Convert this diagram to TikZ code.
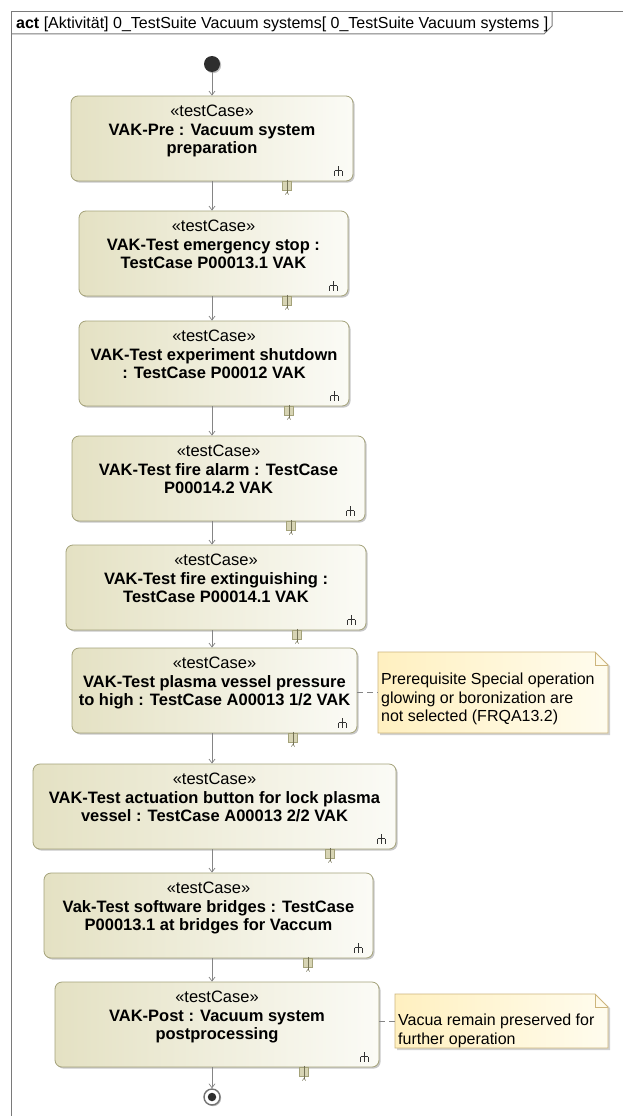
\documentclass[tikz,border=0pt]{standalone}
\usepackage{fontspec}
\setmainfont{Liberation Sans}
\usetikzlibrary{arrows.meta,shadows,calc}

\definecolor{boxline}{HTML}{A4A27A}
\definecolor{boxL}{HTML}{E4E1C3}
\definecolor{boxR}{HTML}{FBFBF6}
\definecolor{noteline}{HTML}{CDB57C}
\definecolor{noteL}{HTML}{FFF0C0}
\definecolor{noteR}{HTML}{FFFCEE}
\definecolor{flowgray}{HTML}{858585}
\definecolor{framegray}{HTML}{7A7A7A}

\tikzset{
  tc/.style={draw=boxline, line width=0.8pt, rounded corners=7pt,
    left color=boxL, right color=boxR, minimum height=85pt, inner sep=0pt,
    drop shadow={shadow xshift=1.6pt, shadow yshift=-1.6pt, fill=black, opacity=0.22}},
  tctext/.style={anchor=north, align=center, inner sep=0pt,
    font=\fontsize{16.5}{18.5}\selectfont},
  pinbox/.style={draw=boxline, fill=boxL!80!boxline, line width=0.6pt,
    minimum width=9pt, minimum height=9pt, inner sep=0pt, anchor=north},
  flow/.style={draw=flowgray, line width=0.7pt,
    -{Straight Barb[length=4pt,width=6pt,line width=0.7pt]}},
  anchorline/.style={draw=flowgray, line width=0.7pt, dash pattern=on 6pt off 4pt},
  notetext/.style={align=left, anchor=north west, inner sep=0pt,
    font=\fontsize{16}{18.5}\selectfont},
}

% rake symbol of a call behavior action: stem on top, three prongs below
\newcommand\rakeicon[1]{%
  \draw[line width=0.9pt, black!80] ($(#1)+(0,-5)$) -- ($(#1)+(0,-0.5)$)
    ($(#1)+(-3.8,-0.5)$) -- ($(#1)+(3.8,-0.5)$)
    ($(#1)+(-3.8,-0.5)$) -- ($(#1)+(-3.8,4.5)$)
    ($(#1)+(0,-0.5)$) -- ($(#1)+(0,4.5)$)
    ($(#1)+(3.8,-0.5)$) -- ($(#1)+(3.8,4.5)$);}

% note with folded corner
\newcommand\notebox[5]{% name, x1, y1, x2, y2
  \fill[black, opacity=0.18] (#2+2,#3+2) -- (#4-12,#3+2) -- (#4+2,#3+14) -- (#4+2,#5+2) -- (#2+2,#5+2) -- cycle;
  \path[draw=noteline, line width=0.8pt, left color=noteL, right color=noteR]
    (#2,#3) -- (#4-13,#3) -- (#4,#3+13) -- (#4,#5) -- (#2,#5) -- cycle;
  \draw[noteline, line width=0.8pt] (#4-13,#3) -- (#4-13,#3+13) -- (#4,#3+13);
  \coordinate (#1) at (#2,{(#3+#5)/2});}

\begin{document}
\begin{tikzpicture}[x=1pt, y=-1pt]
\useasboundingbox (0,0) rectangle (623,1116);
\clip (0,0) rectangle (623,1116);
\fill[white] (0,0) rectangle (623,1116);

% diagram frame and its name tab
\draw[framegray, line width=1pt] (11,1130) -- (11,12) -- (640,12);
\draw[framegray, line width=1pt] (11,34) -- (544,34) -- (552,26) -- (552,12);
\node[anchor=base west, inner sep=0pt, font=\fontsize{16}{18}\selectfont] (title) at (16,28.5)
  {\textbf{act} [Aktivität] 0\_TestSuite Vacuum systems[ 0\_TestSuite Vacuum systems ]};

% initial node
\node[circle, fill=black!82, minimum size=16pt, inner sep=0pt,
  drop shadow={shadow xshift=1.2pt, shadow yshift=-1.2pt, fill=black, opacity=0.25}] (init) at (212,64) {};

% test case actions
\node[tc, minimum width=282pt] (b1) at (212,138.5) {};
\node[tc, minimum width=269pt] (b2) at (213.5,253.5) {};
\node[tc, minimum width=270pt] (b3) at (214,363.5) {};
\node[tc, minimum width=293pt] (b4) at (218.5,478.5) {};
\node[tc, minimum width=300pt] (b5) at (216,587.5) {};
\node[tc, minimum width=285pt] (b6) at (214.5,690.5) {};
\node[tc, minimum width=363pt] (b7) at (214.5,806.5) {};
\node[tc, minimum width=329pt] (b8) at (208.5,915.5) {};
\node[tc, minimum width=324pt] (b9) at (217,1024.5) {};

\node[tctext] (t1) at ([yshift=-9.5pt]b1.north) {«testCase»\\\textbf{VAK-Pre : Vacuum system}\\\textbf{preparation}};
\node[tctext] (t2) at ([yshift=-9.5pt]b2.north) {«testCase»\\\textbf{VAK-Test emergency stop :}\\\textbf{TestCase P00013.1 VAK}};
\node[tctext] (t3) at ([yshift=-9.5pt]b3.north) {«testCase»\\\textbf{VAK-Test experiment shutdown}\\\textbf{: TestCase P00012 VAK}};
\node[tctext] (t4) at ([yshift=-9.5pt]b4.north) {«testCase»\\\textbf{VAK-Test fire alarm : TestCase}\\\textbf{P00014.2 VAK}};
\node[tctext] (t5) at ([yshift=-9.5pt]b5.north) {«testCase»\\\textbf{VAK-Test fire extinguishing :}\\\textbf{TestCase P00014.1 VAK}};
\node[tctext] (t6) at ([yshift=-9.5pt]b6.north) {«testCase»\\\textbf{VAK-Test plasma vessel pressure}\\\textbf{to high : TestCase A00013 1/2 VAK}};
\node[tctext] (t7) at ([yshift=-9.5pt]b7.north) {«testCase»\\\textbf{VAK-Test actuation button for lock plasma}\\\textbf{vessel : TestCase A00013 2/2 VAK}};
\node[tctext] (t8) at ([yshift=-9.5pt]b8.north) {«testCase»\\\textbf{Vak-Test software bridges : TestCase}\\\textbf{P00013.1 at bridges for Vaccum}};
\node[tctext] (t9) at ([yshift=-9.5pt]b9.north) {«testCase»\\\textbf{VAK-Post : Vacuum system}\\\textbf{postprocessing}};

% rake icons
\foreach \b in {b1,b2,b3,b4,b5,b6,b7,b8,b9}{
  \rakeicon{$(\b.south east)+(-15,-10)$}
}

% output pins
\node[pinbox] (p1) at ($(b1.south)+(75,0)$) {};
\node[pinbox] (p2) at ($(b2.south)+(73.5,0)$) {};
\node[pinbox] (p3) at ($(b3.south)+(75,0)$) {};
\node[pinbox] (p4) at ($(b4.south)+(72.5,0)$) {};
\node[pinbox] (p5) at ($(b5.south)+(81,0)$) {};
\node[pinbox] (p6) at ($(b6.south)+(78.5,0)$) {};
\node[pinbox] (p7) at ($(b7.south)+(115.5,0)$) {};
\node[pinbox] (p8) at ($(b8.south)+(99.5,0)$) {};
\node[pinbox] (p9) at ($(b9.south)+(87,0)$) {};
\foreach \p in {p1,p2,p3,p4,p5,p6,p7,p8,p9}{
  \draw[boxline!70!black, line width=0.5pt] ($(\p.north)+(0,-1.5)$) -- ($(\p.south)+(0,1.5)$);
  \draw[boxline!70!black, line width=0.5pt] ($(\p.south)+(-1.8,3.5)$) -- ($(\p.south)+(0,1.5)$) -- ($(\p.south)+(1.8,3.5)$);
}

% final node
\node[circle, draw=black!55, line width=1.4pt, fill=white, minimum size=16pt, inner sep=0pt,
  drop shadow={shadow xshift=1.2pt, shadow yshift=-1.2pt, fill=black, opacity=0.25}] (final) at (212,1097) {};
\node[circle, fill=black!82, minimum size=8.5pt, inner sep=0pt] (finaldot) at (final.center) {};

% control flows
\draw[flow] (init) -- (b1.north -| init);
\draw[flow] (b1.south -| init) -- (b2.north -| init);
\draw[flow] (b2.south -| init) -- (b3.north -| init);
\draw[flow] (b3.south -| init) -- (b4.north -| init);
\draw[flow] (b4.south -| init) -- (b5.north -| init);
\draw[flow] (b5.south -| init) -- (b6.north -| init);
\draw[flow] (b6.south -| init) -- (b7.north -| init);
\draw[flow] (b7.south -| init) -- (b8.north -| init);
\draw[flow] (b8.south -| init) -- (b9.north -| init);
\draw[flow] (b9.south -| init) -- (final.north);

% comments
\notebox{n1}{378}{652}{608}{733}
\node[notetext] (n1t) at (381,673) {Prerequisite Special operation\\glowing or boronization are\\not selected (FRQA13.2)};
\draw[anchorline] (b6.east |- n1) -- (n1);

\notebox{n2}{395}{994}{608}{1048}
\node[notetext] (n2t) at (398,1014) {Vacua remain preserved for\\further operation};
\draw[anchorline] (b9.east |- n2) -- (n2);
\end{tikzpicture}
\end{document}
